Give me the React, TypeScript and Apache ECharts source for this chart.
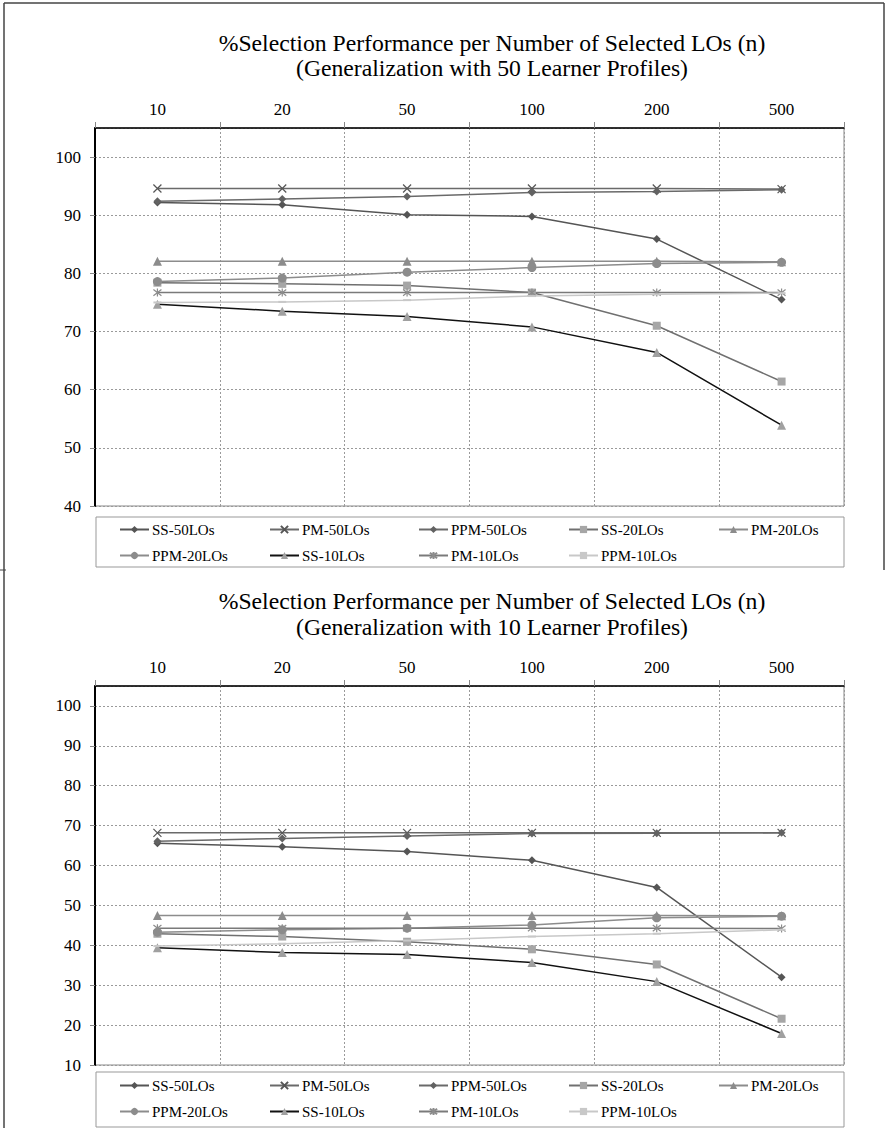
import React, { useEffect, useRef } from 'react';
import * as echarts from 'echarts';

const categories = ['10', '20', '50', '100', '200', '500'];
const seriesNames = ['SS-50LOs', 'PM-50LOs', 'PPM-50LOs', 'SS-20LOs', 'PM-20LOs', 'PPM-20LOs', 'SS-10LOs', 'PM-10LOs', 'PPM-10LOs'];

// Chart 1: Generalization with 50 Learner Profiles
const ss50Top = [92.2, 91.8, 90.1, 89.8, 85.9, 75.5];
const pm50Top = [94.6, 94.6, 94.6, 94.6, 94.6, 94.5];
const ppm50Top = [92.4, 92.8, 93.2, 93.9, 94.1, 94.4];
const ss20Top = [78.4, 78.2, 77.9, 76.7, 71.0, 61.4];
const pm20Top = [82.1, 82.1, 82.1, 82.1, 82.1, 82.0];
const ppm20Top = [78.6, 79.2, 80.2, 81.0, 81.7, 81.9];
const ss10Top = [74.7, 73.5, 72.6, 70.8, 66.4, 53.9];
const pm10Top = [76.7, 76.7, 76.7, 76.7, 76.7, 76.7];
const ppm10Top = [75.0, 75.1, 75.4, 76.1, 76.4, 76.6];

// Chart 2: Generalization with 10 Learner Profiles
const ss50Bottom = [65.6, 64.7, 63.5, 61.3, 54.5, 32.0];
const pm50Bottom = [68.2, 68.2, 68.2, 68.2, 68.2, 68.2];
const ppm50Bottom = [66.1, 66.8, 67.4, 68.0, 68.1, 68.2];
const ss20Bottom = [42.9, 42.2, 40.9, 39.0, 35.2, 21.6];
const pm20Bottom = [47.5, 47.5, 47.5, 47.5, 47.5, 47.4];
const ppm20Bottom = [43.3, 43.9, 44.3, 45.1, 46.9, 47.3];
const ss10Bottom = [39.4, 38.2, 37.7, 35.7, 30.9, 17.9];
const pm10Bottom = [44.3, 44.3, 44.3, 44.3, 44.3, 44.2];
const ppm10Bottom = [39.8, 40.4, 41.2, 42.2, 42.9, 43.9];

const topData = [ss50Top, pm50Top, ppm50Top, ss20Top, pm20Top, ppm20Top, ss10Top, pm10Top, ppm10Top];
const bottomData = [ss50Bottom, pm50Bottom, ppm50Bottom, ss20Bottom, pm20Bottom, ppm20Bottom, ss10Bottom, pm10Bottom, ppm10Bottom];

const titleTop = ['%Selection Performance per Number of Selected LOs (n)', '(Generalization with 50 Learner Profiles)'];
const titleBottom = ['%Selection Performance per Number of Selected LOs (n)', '(Generalization with 10 Learner Profiles)'];

const FONT = 'Liberation Serif, serif';
const X_PATH = 'path://M0,0L10,10M10,0L0,10';
const STAR_PATH = 'path://M0,0L10,10M10,0L0,10M5,-1.5L5,11.5';

type Style = { line: string; mark: string; symbol: string; size: number | number[]; stroke?: boolean; width: number };
const styles: Style[] = [
  { line: '#555555', mark: '#555555', symbol: 'diamond', size: 8, width: 1.5 },
  { line: '#6a6a6a', mark: '#555555', symbol: X_PATH, size: 8, stroke: true, width: 1.5 },
  { line: '#6a6a6a', mark: '#626262', symbol: 'diamond', size: 8, width: 1.5 },
  { line: '#707070', mark: '#a6a6a6', symbol: 'rect', size: 8, width: 1.5 },
  { line: '#8c8c8c', mark: '#8c8c8c', symbol: 'triangle', size: 9, width: 1.5 },
  { line: '#8c8c8c', mark: '#8c8c8c', symbol: 'circle', size: 9, width: 1.5 },
  { line: '#111111', mark: '#a0a0a0', symbol: 'triangle', size: 9, width: 1.5 },
  { line: '#7a7a7a', mark: '#8c8c8c', symbol: STAR_PATH, size: 8, stroke: true, width: 1.5 },
  { line: '#c8c8c8', mark: '#c8c8c8', symbol: 'rect', size: [8, 2], width: 1.5 },
];

function makeSeries(data: number[][], idx: number) {
  return seriesNames.map((name, i) => {
    const s = styles[i];
    return {
      name,
      type: 'line',
      xAxisIndex: idx,
      yAxisIndex: idx,
      data: data[i],
      symbol: s.symbol,
      symbolSize: s.size,
      showSymbol: true,
      lineStyle: { color: s.line, width: s.width },
      itemStyle: s.stroke
        ? { color: s.mark, borderColor: s.mark, borderWidth: 1.2 }
        : { color: s.mark, borderWidth: 0 },
      emphasis: { disabled: true },
      z: 3,
    };
  });
}

const legendCols = [[0, 5], [1, 6], [2, 7], [3, 8], [4]];
const legendLefts = [119, 269, 418, 568, 718];

function makeLegends(top: number) {
  return legendCols.map((col, i) => ({
    orient: 'vertical',
    left: legendLefts[i],
    top,
    padding: 0,
    itemGap: 11,
    itemWidth: 29,
    itemHeight: 9,
    data: col.map((k) => seriesNames[k]),
    textStyle: { fontFamily: FONT, fontSize: 15, color: '#000', lineHeight: 15, padding: [0, 0, 0, -2] },
    selectedMode: false,
  }));
}

function makeAxes(idx: number, min: number) {
  const split = { show: true, lineStyle: { color: '#9a9a9a', width: 1, type: [2, 2] } };
  const xAxis = {
    type: 'category',
    gridIndex: idx,
    position: 'top',
    data: categories,
    boundaryGap: true,
    axisLine: { show: true, lineStyle: { color: '#000', width: 1.5 } },
    axisTick: { show: true, inside: false, length: 6, lineStyle: { color: '#888' } },
    axisLabel: { fontFamily: FONT, fontSize: 17, color: '#000', margin: 10 },
    splitLine: split,
  };
  const yAxis = {
    type: 'value',
    gridIndex: idx,
    min,
    max: 105,
    interval: 10,
    axisLine: { show: true, lineStyle: { color: '#000', width: 2 } },
    axisTick: { show: true, inside: false, length: 5, lineStyle: { color: '#888' } },
    axisLabel: {
      fontFamily: FONT,
      fontSize: 17,
      color: '#000',
      margin: 14,
      showMaxLabel: false,
      formatter: (v: number) => (v > 100 ? '' : String(v)),
    },
    splitLine: split,
  };
  return { xAxis, yAxis };
}

function titleTexts(lines: string[], y1: number, y2: number) {
  return lines.map((t, i) => ({
    type: 'text',
    x: 492,
    y: i === 0 ? y1 : y2,
    style: {
      text: t,
      align: 'center',
      verticalAlign: 'middle',
      font: '23.7px Liberation Serif, serif',
      fill: '#000',
    },
  }));
}

export default function App() {
  const ref = useRef<HTMLDivElement>(null);
  useEffect(() => {
    if (!ref.current) return;
    const chart = echarts.init(ref.current, undefined, { renderer: 'svg' });
    const a1 = makeAxes(0, 40);
    const a2 = makeAxes(1, 10);
    const option: any = {
      animation: false,
      backgroundColor: '#fff',
      textStyle: { fontFamily: FONT },
      grid: [
        { left: 95, top: 128, width: 749, height: 378, show: true, borderColor: '#888', borderWidth: 1, backgroundColor: 'transparent' },
        { left: 95, top: 686, width: 749, height: 379, show: true, borderColor: '#888', borderWidth: 1, backgroundColor: 'transparent' },
      ],
      xAxis: [a1.xAxis, a2.xAxis],
      yAxis: [a1.yAxis, a2.yAxis],
      legend: [...makeLegends(522), ...makeLegends(1078)],
      series: [...makeSeries(topData, 0), ...makeSeries(bottomData, 1)],
      graphic: [
        ...titleTexts(titleTop, 43, 68),
        ...titleTexts(titleBottom, 601, 627),
        { type: 'rect', shape: { x: 96, y: 517, width: 748, height: 50 }, style: { fill: 'none', stroke: '#999', lineWidth: 1 } },
        { type: 'rect', shape: { x: 96, y: 1072, width: 748, height: 55 }, style: { fill: 'none', stroke: '#999', lineWidth: 1 } },
        { type: 'line', shape: { x1: 4, y1: 3, x2: 4, y2: 1128 }, style: { stroke: '#444', lineWidth: 1.5 } },
        { type: 'line', shape: { x1: 4, y1: 3, x2: 884, y2: 3 }, style: { stroke: '#444', lineWidth: 1.5 } },
        { type: 'line', shape: { x1: 884, y1: 3, x2: 884, y2: 570 }, style: { stroke: '#444', lineWidth: 1.5 } },
        { type: 'line', shape: { x1: 0, y1: 570, x2: 6, y2: 570 }, style: { stroke: '#444', lineWidth: 1 } },
      ],
    };
    chart.setOption(option);
    return () => chart.dispose();
  }, []);
  return <div ref={ref} style={{ position: 'absolute', left: 0, top: 0, width: 886, height: 1128 }} />;
}
